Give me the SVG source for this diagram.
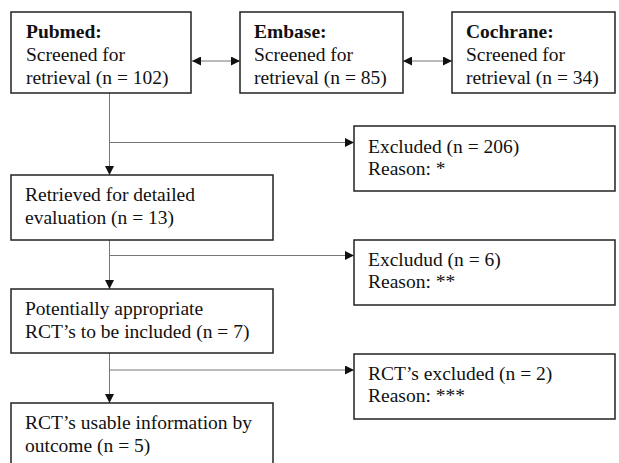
<svg xmlns="http://www.w3.org/2000/svg" width="619" height="463" viewBox="0 0 619 463">
<style>
.box{fill:#fff;stroke:#222;stroke-width:1.5}
.t{font-family:"Liberation Serif","Times New Roman",serif;font-size:19.5px;fill:#111}
.b{font-weight:bold}
.c{stroke:#777;stroke-width:1;fill:none}
</style>
<defs>
<marker id="ah" viewBox="0 0 10 10" refX="10" refY="5" markerWidth="11" markerHeight="9" markerUnits="userSpaceOnUse" orient="auto-start-reverse">
<path d="M0,0 L10,5 L0,10 Z" fill="#111"/>
</marker>
</defs>
<g id="connectors">
<line class="c" x1="192" y1="61" x2="240" y2="61" marker-start="url(#ah)" marker-end="url(#ah)"/>
<line class="c" x1="403" y1="61" x2="452" y2="61" marker-start="url(#ah)" marker-end="url(#ah)"/>
<line class="c" x1="109.5" y1="93" x2="109.5" y2="175" marker-end="url(#ah)"/>
<line class="c" x1="109.5" y1="142.5" x2="354" y2="142.5" marker-end="url(#ah)"/>
<line class="c" x1="109.5" y1="240" x2="109.5" y2="289" marker-end="url(#ah)"/>
<line class="c" x1="109.5" y1="255.5" x2="354" y2="255.5" marker-end="url(#ah)"/>
<line class="c" x1="109.5" y1="353" x2="109.5" y2="403" marker-end="url(#ah)"/>
<line class="c" x1="109.5" y1="370" x2="354" y2="370" marker-end="url(#ah)"/>
</g>
<g id="pubmed">
<rect class="box" x="11" y="12" width="180" height="81"/>
<text class="t" x="26" y="38"><tspan class="b">Pubmed:</tspan><tspan x="26" dy="23">Screened for</tspan><tspan x="26" dy="23">retrieval (n = 102)</tspan></text>
</g>
<g id="embase">
<rect class="box" x="240" y="12" width="163" height="81"/>
<text class="t" x="254" y="38"><tspan class="b">Embase:</tspan><tspan x="254" dy="23">Screened for</tspan><tspan x="254" dy="23">retrieval (n = 85)</tspan></text>
</g>
<g id="cochrane">
<rect class="box" x="452" y="12" width="163" height="81"/>
<text class="t" x="466" y="38"><tspan class="b">Cochrane:</tspan><tspan x="466" dy="23">Screened for</tspan><tspan x="466" dy="23">retrieval (n = 34)</tspan></text>
</g>
<g id="excluded1">
<rect class="box" x="354" y="126" width="261" height="65"/>
<text class="t" x="368" y="153">Excluded (n = 206)<tspan x="368" dy="22">Reason: *</tspan></text>
</g>
<g id="retrieved">
<rect class="box" x="11" y="175" width="262" height="65"/>
<text class="t" x="25" y="201">Retrieved for detailed<tspan x="25" dy="23">evaluation (n = 13)</tspan></text>
</g>
<g id="excluded2">
<rect class="box" x="354" y="240" width="261" height="65"/>
<text class="t" x="368" y="266">Excludud (n = 6)<tspan x="368" dy="22">Reason: **</tspan></text>
</g>
<g id="potential">
<rect class="box" x="11" y="289" width="262" height="64"/>
<text class="t" x="25" y="315">Potentially appropriate<tspan x="25" dy="23">RCT’s to be included (n = 7)</tspan></text>
</g>
<g id="excluded3">
<rect class="box" x="354" y="354" width="261" height="65"/>
<text class="t" x="368" y="380">RCT’s excluded (n = 2)<tspan x="368" dy="22">Reason: ***</tspan></text>
</g>
<g id="usable">
<rect class="box" x="11" y="403" width="262" height="70"/>
<text class="t" x="25" y="429">RCT’s usable information by<tspan x="25" dy="23">outcome (n = 5)</tspan></text>
</g>
</svg>
